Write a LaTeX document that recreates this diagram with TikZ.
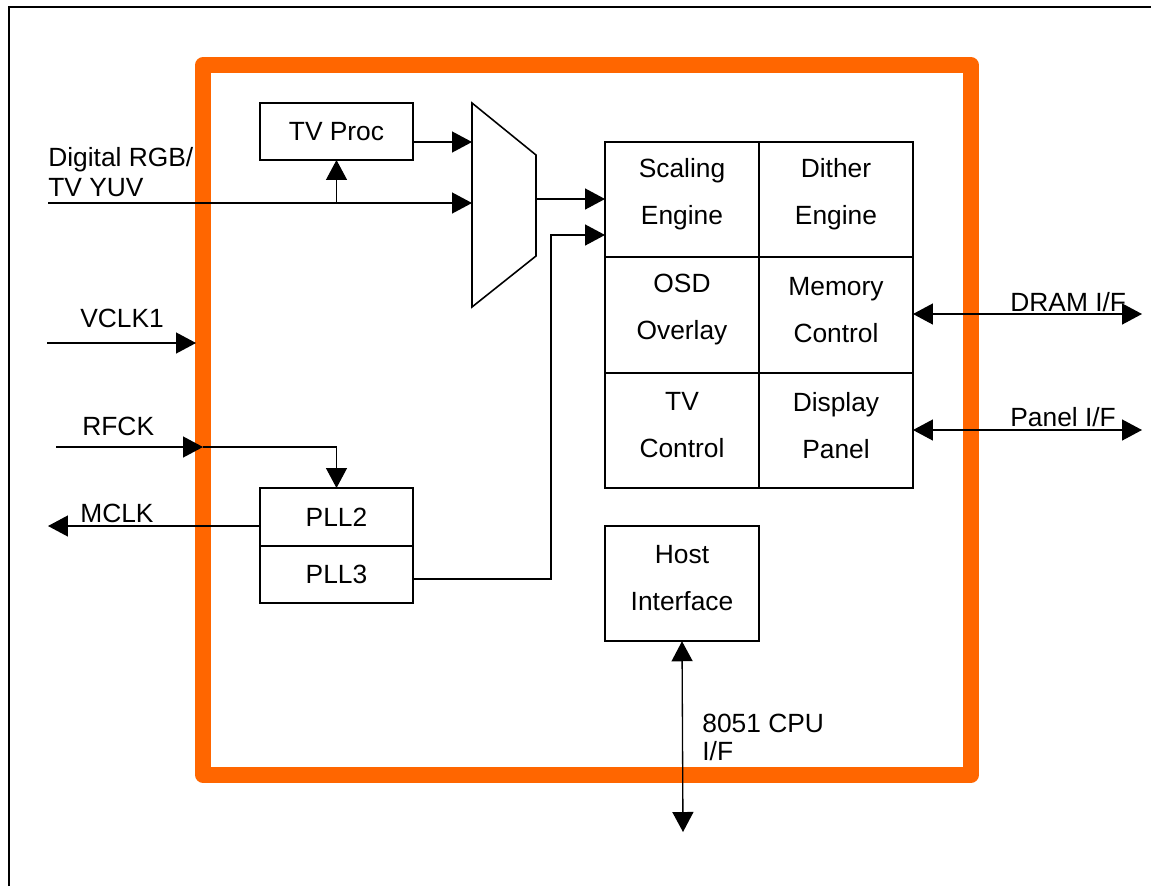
\documentclass[tikz,border=0pt]{standalone}
\usepackage{fontspec}
\setmainfont{Liberation Sans}
\usepackage{tikz}
\usetikzlibrary{arrows.meta, positioning}
\definecolor{chiporange}{HTML}{FF6600}

\tikzset{
  blk/.style={draw, line width=0.9pt, inner sep=0pt, outer sep=0pt, minimum width=3.06cm, font=\fontsize{15}{17}\selectfont},
  cell/.style={draw, line width=0.9pt, inner sep=0pt, outer sep=0pt, minimum width=3.08cm, minimum height=2.31cm},
  celltext/.style={align=center, inner sep=0pt, yshift=0.1cm, font=\fontsize{15}{26.7}\selectfont},
  sig/.style={line width=0.75pt, -{Triangle[length=0.4cm,width=0.42cm]}},
  bisig/.style={line width=0.75pt, {Triangle[length=0.4cm,width=0.42cm]}-{Triangle[length=0.4cm,width=0.42cm]}},
  lbl/.style={inner sep=0pt, anchor=west, font=\fontsize{15}{17}\selectfont},
}

\begin{document}
\begin{tikzpicture}[x=0.02cm, y=-0.02cm]
\useasboundingbox (0,0) rectangle (1151,886);
% outer frame and chip outline
\draw[line width=0.6pt] (9,886) -- (9,7) -- (1151,7);
\draw[chiporange, line width=0.31cm, line join=round] (203,65) rectangle (971,775);

% input side blocks
\node[blk, minimum height=1.14cm] (tvproc) at (336.5,131.5) {TV Proc};
\node[blk, minimum height=1.16cm] (pll2) at (336.5,517) {PLL2};
\node[blk, minimum height=1.14cm, below=0pt of pll2] (pll3) {PLL3};

% mux
\draw[line width=0.9pt] (472,103) -- (536,155) -- (536,256) -- (472,307) -- cycle;
\coordinate (muxa) at (472,142);
\coordinate (muxb) at (472,203);
\coordinate (muxout) at (536,199);

% engine grid
\node[cell, label={[celltext]center:Scaling\\Engine}] (se) at (682,199.5) {};
\node[cell, right=0pt of se, label={[celltext]center:Dither\\Engine}] (de) {};
\node[cell, below=0pt of se, label={[celltext]center:OSD\\Overlay}] (osd) {};
\node[cell, right=0pt of osd, label={[celltext]center:Memory\\Control}] (mc) {};
\node[cell, below=0pt of osd, label={[celltext]center:TV\\Control}] (tvc) {};
\node[cell, right=0pt of tvc, label={[celltext]center:Display\\Panel}] (dp) {};
\node[cell, label={[celltext]center:Host\\Interface}] (host) at (682,583.5) {};

% free ends
\coordinate (rgbin) at (48,203);
\coordinate (vclk) at (47,343);
\coordinate (vclkend) at (196,343);
\coordinate (rfck) at (56,447);
\coordinate (rfckedge) at (203,447);
\coordinate (mclk) at (48,526);
\coordinate (pll3out) at (413,579);
\coordinate (jog) at (551,235);
\coordinate (dram) at (1142,314);
\coordinate (panel) at (1142,430);
\coordinate (cpu) at (683,832);

% labels
\node[lbl, align=left, font=\fontsize{15}{17}\selectfont] (rgblbl) at (48,172) {Digital RGB/\\TV YUV};
\node[lbl] (vclklbl) at (80,318) {VCLK1};
\node[lbl] (rfcklbl) at (82,426) {RFCK};
\node[lbl] (mclklbl) at (80,513) {MCLK};
\node[lbl] (dramlbl) at (1010,302) {DRAM I/F};
\node[lbl] (panellbl) at (1010,417) {Panel I/F};
\node[lbl, align=left, font=\fontsize{15}{16.4}\selectfont] (cpulbl) at (702,737.5) {8051 CPU\\I/F};

% connectors
\draw[sig] (rgbin) -- (muxb);
\draw[sig] (tvproc.south |- rgbin) -- (tvproc.south);
\draw[sig] (tvproc.east |- muxa) -- (muxa);
\draw[sig] (muxout) -- (se.west |- muxout);
\draw[sig] (pll3.east |- pll3out) -| (jog) -- (se.west |- jog);
\draw[sig] (vclk) -- (vclkend);
\draw[sig] (rfck) -- (rfckedge);
\draw[sig] (rfckedge) -| (pll2.north);
\draw[sig] (pll2.west |- mclk) -- (mclk);
\draw[bisig] (mc.east |- dram) -- (dram);
\draw[bisig] (dp.east |- panel) -- (panel);
\draw[bisig] (host.south) -- (cpu);
\end{tikzpicture}
\end{document}
